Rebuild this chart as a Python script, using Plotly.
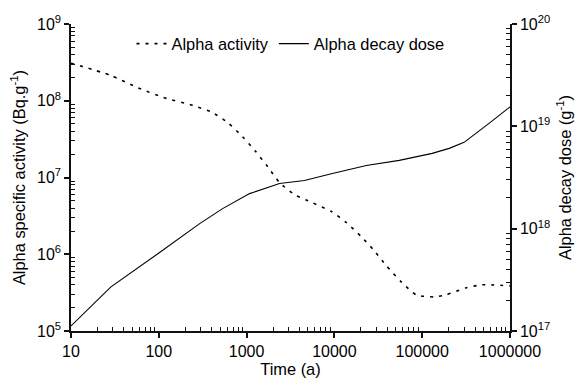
import plotly.graph_objects as go

# Alpha activity (left axis, Bq/g)
t_act = [10, 28, 56, 111, 243, 400, 608, 901, 1265, 1733, 2373, 3510, 5620, 9250,
         13700, 20300, 28500, 39000, 57700, 85500, 137000, 187000, 316000, 481000, 1000000]
act = [3.09e8, 2.15e8, 1.5e8, 1.11e8, 8.7e7, 7.1e7, 5.2e7, 3.4e7, 2.19e7, 1.39e7, 8.6e6,
       6.0e6, 4.7e6, 3.6e6, 2.58e6, 1.69e6, 1.11e6, 7.1e5, 4.37e5, 2.96e5, 2.78e5,
       2.96e5, 3.65e5, 4.0e5, 3.87e5]

# Alpha decay dose (right axis, per g)
t_dose = [10, 28.5, 97.5, 292, 533, 1081, 2373, 4560, 9480, 23100, 54800, 130000,
          203000, 300000, 577000, 1000000]
dose = [1.12e17, 2.70e17, 5.69e17, 1.12e18, 1.57e18, 2.20e18, 2.76e18, 2.96e18,
        3.46e18, 4.15e18, 4.65e18, 5.44e18, 6.09e18, 6.97e18, 1.07e19, 1.55e19]

x_ticks = [10, 100, 1000, 10000, 100000, 1000000]
x_ticktext = ["10", "100", "1000", "10000", "100000", "1000000"]
yl_ticks = [1e5, 1e6, 1e7, 1e8, 1e9]
yl_ticktext = ["10<sup>5</sup>", "10<sup>6</sup>", "10<sup>7</sup>", "10<sup>8</sup>", "10<sup>9</sup>"]
yr_ticks = [1e17, 1e18, 1e19, 1e20]
yr_ticktext = ["10<sup>17</sup>", "10<sup>18</sup>", "10<sup>19</sup>", "10<sup>20</sup>"]


def minor_vals(decades):
    return [float(m) * 10.0 ** d for d in decades for m in range(2, 10)]


FONT = "Liberation Sans, Arial, sans-serif"
TFS = 16.4

fig = go.Figure()
fig.add_trace(go.Scatter(x=t_act, y=act, mode="lines", name="Alpha activity",
                         line=dict(color="black", width=1.6, dash="3px,6px", shape="spline", smoothing=0.6),
                         yaxis="y"))
fig.add_trace(go.Scatter(x=t_dose, y=dose, mode="lines", name="Alpha decay dose",
                         line=dict(color="black", width=1.1), yaxis="y2"))


def axis_common(minor_ticks):
    return dict(showgrid=False, zeroline=False, showline=True, linecolor="#111",
                linewidth=1.5, ticks="outside", ticklen=5, tickwidth=1.5, tickcolor="#111",
                automargin=False,
                tickfont=dict(family=FONT, size=16, color="black"),
                minor=dict(ticks="inside", ticklen=4, tickwidth=1, tickcolor="#111",
                           showgrid=False, tickvals=minor_ticks))


fig.update_layout(
    width=583, height=382,
    margin=dict(l=63, r=81, t=16, b=59),
    paper_bgcolor="white", plot_bgcolor="white",
    font=dict(family=FONT, size=TFS, color="black"),
    showlegend=True,
    legend=dict(orientation="h", x=0.5, xanchor="center", y=0.935, yanchor="middle",
                bgcolor="rgba(0,0,0,0)", font=dict(family=FONT, size=TFS, color="black"),
                itemwidth=30, tracegroupgap=0),
    xaxis=dict(type="log", range=[1, 6], tickvals=x_ticks, ticktext=x_ticktext,
               title=dict(text="Time (a)", font=dict(family=FONT, size=TFS, color="black"), standoff=3),
               **axis_common(minor_vals(range(1, 6)))),
    yaxis=dict(type="log", range=[5, 9], tickvals=yl_ticks, ticktext=yl_ticktext,
               title=dict(text="Alpha specific activity (Bq.g<sup>-1</sup>)",
                          font=dict(family=FONT, size=TFS, color="black"), standoff=8),
               **axis_common(minor_vals(range(5, 9)))),
    yaxis2=dict(type="log", range=[17, 20], tickvals=yr_ticks, ticktext=yr_ticktext,
                overlaying="y", side="right",
                title=dict(text="Alpha decay dose (g<sup>-1</sup>)",
                           font=dict(family=FONT, size=TFS, color="black"), standoff=10),
                **axis_common(minor_vals(range(17, 20)))),
)

fig.write_html("out.html")
